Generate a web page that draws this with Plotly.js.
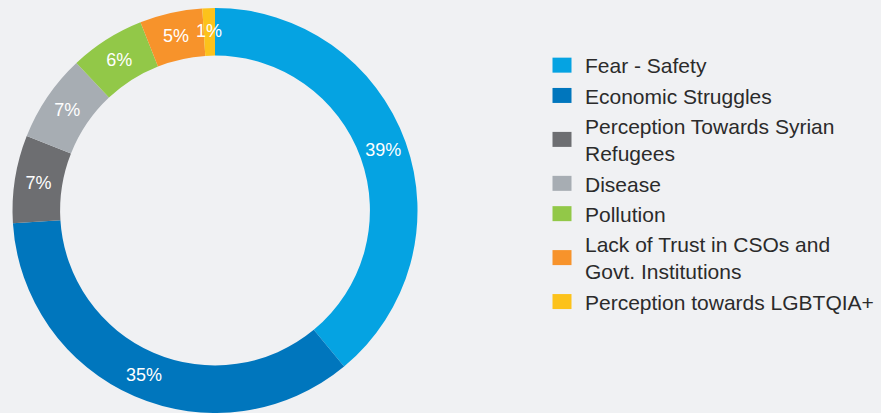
<!DOCTYPE html>
<html>
<head>
<meta charset="utf-8">
<script src="https://cdn.plot.ly/plotly-3.0.1.min.js"></script>
<style>html,body{margin:0;padding:0;background:#f0f1f3;}#chart{width:881px;height:413px;}</style>
</head>
<body>
<div id="chart"></div>
<script>
const categories = ["Fear - Safety", "Economic Struggles", "Perception Towards Syrian<br>Refugees", "Disease", "Pollution", "Lack of Trust in CSOs and<br>Govt. Institutions", "Perception towards LGBTQIA+"];
const values = [39, 35, 7, 7, 6, 5, 1];
const colors = ["#05a3e2", "#0076bd", "#6d6e71", "#a7adb3", "#92c848", "#f7932b", "#fcc21b"];

const total = values.reduce((a, b) => a + b, 0);
const textFont = {family: "Liberation Sans, Arial, sans-serif", size: 18, color: "#ffffff"};

// slices too thin for Plotly's inside text get their label as an annotation
// placed at the slice's mid-angle on the ring
const smallIdx = values.map((v, i) => v / total < 0.02 ? i : -1).filter(i => i >= 0);
const positions = values.map((v, i) => smallIdx.includes(i) ? "none" : "inside");

const cx = 215, cy = 210.5, rMid = 180;
const annotations = [];
let cum = 0;
values.forEach((v, i) => {
  const a0 = cum; cum += v;
  if (!smallIdx.includes(i)) return;
  const mid = (a0 + v / 2) / total * 2 * Math.PI;
  const px = cx + rMid * Math.sin(mid);
  const py = cy - rMid * Math.cos(mid);
  annotations.push({
    text: Math.round(v / total * 100) + "%",
    xref: "paper", yref: "paper",
    x: (px - 11) / 870, y: 1 - (py - 8) / 405,
    xanchor: "center", yanchor: "middle",
    showarrow: false, font: textFont
  });
});

const trace = {
  type: "pie",
  labels: categories,
  values: values,
  sort: false,
  direction: "clockwise",
  rotation: 0,
  hole: 0.765,
  marker: {colors: colors, line: {width: 0}},
  textinfo: "percent",
  textposition: positions,
  insidetextorientation: "horizontal",
  textfont: textFont,
  domain: {x: [0, 0.469], y: [0, 1]},
  hoverinfo: "label+percent"
};

const layout = {
  width: 881, height: 413,
  margin: {l: 11, r: 0, t: 8, b: 0},
  paper_bgcolor: "#f0f1f3",
  plot_bgcolor: "#f0f1f3",
  showlegend: true,
  annotations: annotations,
  legend: {
    x: 534/870, xanchor: "left",
    y: 1 - 37/405, yanchor: "top",
    font: {family: "Liberation Sans, Arial, sans-serif", size: 21, color: "#2b2b2b"},
    bgcolor: "rgba(0,0,0,0)",
    traceorder: "normal"
  }
};

Plotly.newPlot("chart", [trace], layout, {staticPlot: true}).then(function(){
  document.querySelectorAll("#chart .legendpoints path").forEach(function(p){
    p.setAttribute("d", "M9.5,7.5H-9.5V-7.5H9.5Z");
    p.setAttribute("transform", "translate(17,0)");
    p.style.strokeWidth = "0";
  });
});
</script>
</body>
</html>
